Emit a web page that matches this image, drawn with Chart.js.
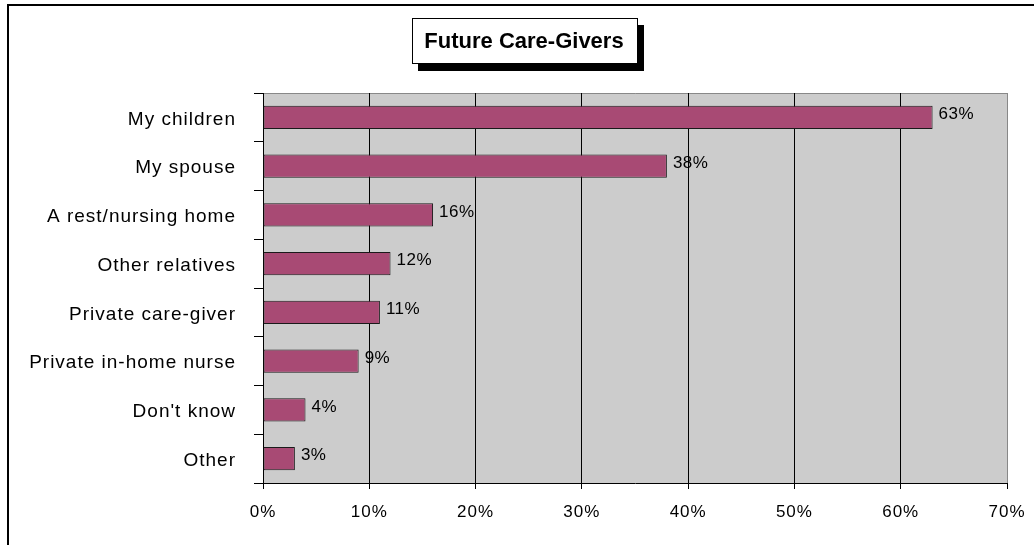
<!DOCTYPE html>
<html>
<head>
<meta charset="utf-8">
<title>Future Care-Givers</title>
<script src="https://cdn.jsdelivr.net/npm/chart.js@4.4.0/dist/chart.umd.min.js"></script>
<style>
  body { margin: 0; background: #fff; }
  canvas { display: block; }
</style>
</head>
<body>
<canvas id="Chart" width="1034" height="545"></canvas>
<script>
// answers to "who will take care of you?"
const categories = [
  "My children",
  "My spouse",
  "A rest/nursing home",
  "Other relatives",
  "Private care-giver",
  "Private in-home nurse",
  "Don't know",
  "Other",
];
const shares = [63, 38, 16, 12, 11, 9, 4, 3];
const xTickValues = [0, 10, 20, 30, 40, 50, 60, 70];

const FONT = "'Liberation Sans', Arial, sans-serif";

// grey plot area, frame and the boxed title
const decorations = {
  id: "decorations",
  beforeDraw(chart) {
    const ctx = chart.ctx;
    const a = chart.chartArea;
    ctx.save();
    ctx.fillStyle = "#cccccc";
    ctx.fillRect(a.left, a.top, a.right - a.left, a.bottom - a.top);
    ctx.strokeStyle = "#888888";
    ctx.lineWidth = 1;
    ctx.beginPath();
    ctx.moveTo(a.left, a.top + 0.5);
    ctx.lineTo(a.right + 0.5, a.top + 0.5);
    ctx.lineTo(a.right + 0.5, a.bottom);
    ctx.stroke();

    // outer frame
    ctx.strokeStyle = "#000";
    ctx.lineWidth = 2;
    ctx.strokeRect(8, 5, 1100, 600);

    // title box with its shadow
    ctx.fillStyle = "#000";
    ctx.fillRect(418, 25, 226, 46);
    ctx.fillStyle = "#fff";
    ctx.fillRect(412, 18, 226, 46);
    ctx.lineWidth = 1;
    ctx.strokeRect(412.5, 18.5, 225, 45);
    ctx.fillStyle = "#000";
    ctx.font = "bold 22px " + FONT;
    ctx.textAlign = "center";
    ctx.textBaseline = "middle";
    ctx.fillText("Future Care-Givers", 524, 42);
    ctx.restore();

    // labels in this chart are set a bit loose
    ctx.letterSpacing = "1px";
  },
  afterDatasetsDraw(chart) {
    const ctx = chart.ctx;
    const meta = chart.getDatasetMeta(0);
    ctx.save();
    ctx.letterSpacing = "0.5px";
    ctx.fillStyle = "#000";
    ctx.font = "17px " + FONT;
    ctx.textAlign = "left";
    ctx.textBaseline = "middle";
    meta.data.forEach((bar, i) => {
      ctx.fillText(shares[i] + "%", bar.x + 6, bar.y - 3);
    });
    ctx.restore();
  },
};

const data = {
  labels: categories,
  datasets: [
    {
      label: "Future care-givers",
      data: shares,
      backgroundColor: "#a84a74",
      borderColor: "#1a1a1a",
      borderWidth: 1,
      borderSkipped: false,
      barPercentage: 1,
      categoryPercentage: 0.48,
    },
  ],
};

const config = {
  type: "bar",
  data: data,
  options: {
    indexAxis: "y",
    responsive: false,
    animation: false,
    layout: { padding: { top: 93, right: 27, left: 0, bottom: 0 } },
    plugins: {
      legend: { display: false },
      tooltip: { enabled: false },
      title: { display: false },
    },
    scales: {
      x: {
        min: 0,
        max: 70,
        afterBuildTicks: (scale) => {
          scale.ticks = xTickValues.map((v) => ({ value: v }));
        },
        afterFit: (scale) => {
          scale.height = 62;
          scale.paddingLeft = 0;
          scale.paddingRight = 0;
        },
        grid: {
          color: (c) => (c.tick && c.tick.value === 70 ? "#888888" : "#000000"),
          tickColor: "#000000",
          tickLength: 6,
          lineWidth: 1,
        },
        border: { display: true, color: "#000000", width: 1 },
        ticks: {
          color: "#000",
          padding: 13,
          maxRotation: 0,
          font: { family: FONT, size: 17 },
          callback: (v) => v + "%",
        },
      },
      y: {
        afterFit: (scale) => {
          scale.width = 263;
        },
        grid: {
          offset: true,
          drawOnChartArea: false,
          color: "#000000",
          tickLength: 9,
        },
        border: { display: true, color: "#000000", width: 1 },
        ticks: {
          color: "#000",
          padding: 18,
          labelOffset: 2,
          font: { family: FONT, size: 19 },
        },
      },
    },
  },
  plugins: [decorations],
};

const myChart = new Chart(document.getElementById("Chart"), config);
</script>
</body>
</html>
